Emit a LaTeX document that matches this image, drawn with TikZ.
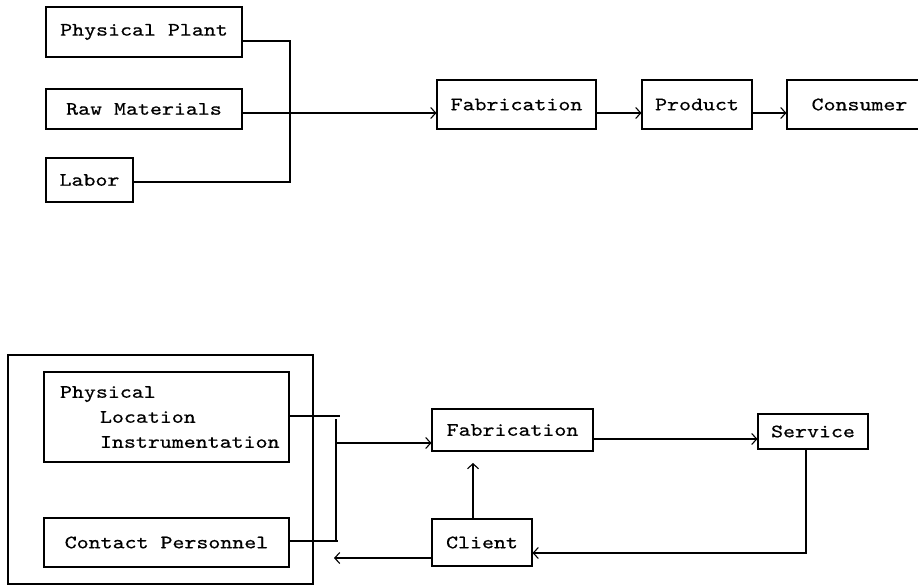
\documentclass[tikz,border=0pt]{standalone}
\usepackage{fontspec}
\newfontfamily\tw{lmmono10-regular.otf}[FakeStretch=1.2,FakeBold=0.6]
\usetikzlibrary{arrows.meta}
\begin{document}
\begin{tikzpicture}[x=1pt,y=-1pt,
  box/.style={draw, line width=1.1pt, inner sep=0pt, font=\tw\fontsize{19}{25}\selectfont},
  ln/.style={line width=1.1pt},
  arr/.style={line width=1.1pt, -{Straight Barb[length=5pt,width=11pt]}}]
\clip (0,0) rectangle (918,586);
% ---------- top ----------
\node[box, minimum width=196pt, minimum height=50pt] (pp) at (144,32) {Physical Plant};
\node[box, minimum width=196pt, minimum height=40pt] (rm) at (144,109) {Raw Materials};
\node[box, minimum width=87pt, minimum height=44pt] (lab) at (89.5,180) {Labor};
\node[box, minimum width=159pt, minimum height=49pt] (fabA) at (516.5,104.5) {Fabrication};
\node[box, minimum width=110pt, minimum height=49pt] (prod) at (697,104.5) {Product};
\node[box, minimum width=145pt, minimum height=49pt] (cons) at (859.5,104.5) {Consumer};
\coordinate (j1) at (290,41);
\coordinate (j2) at (290,182);
\draw[ln] (pp.east |- j1) -- (j1) -- (j2) -- (lab.east |- j2);
\draw[arr] ([yshift=-4pt]rm.east) -- ([yshift=-4pt]rm.east -| fabA.west);
\draw[arr] ([yshift=-8.5pt]fabA.east) -- ([yshift=-8.5pt]fabA.east -| prod.west);
\draw[arr] ([yshift=-8.5pt]prod.east) -- ([yshift=-8.5pt]prod.east -| cons.west);
% ---------- bottom ----------
\node[box, minimum width=305pt, minimum height=229pt] (grp) at (160.5,469.5) {};
\node[box, minimum width=245pt, minimum height=90pt, text width=245pt, align=left] (plc) at (166.5,417)
  {\hspace*{16pt}Physical\\\hspace*{56pt}Location\\\hspace*{56pt}Instrumentation};
\node[box, minimum width=245pt, minimum height=49pt] (cp) at (166.5,542.5) {Contact Personnel};
\node[box, minimum width=161pt, minimum height=42pt] (fabB) at (512.5,430) {Fabrication};
\node[box, minimum width=110pt, minimum height=35pt] (svc) at (813,431.5) {Service};
\node[box, minimum width=100pt, minimum height=47pt] (cli) at (482,542.5) {Client};
\coordinate (b1) at (340,416);
\coordinate (v1) at (336,419);
\coordinate (v2) at (336,542);
\coordinate (b2) at (338,541);
\coordinate (vo) at (336,443);
\draw[ln] (plc.east |- b1) -- (b1);
\draw[ln] (v1) -- (v2);
\draw[ln] (cp.east |- b2) -- (b2);
\draw[arr] (vo) -- (vo -| fabB.west);
\draw[arr] ([yshift=-9pt]fabB.east) -- ([yshift=-9pt]fabB.east -| svc.west);
\coordinate (ct) at (473,463);
\draw[arr] (cli.north -| ct) -- (ct);
\coordinate (s1) at (806,553);
\draw[arr] (svc.south -| s1) -- (s1) -- (s1 -| cli.east);
\coordinate (ce) at (334,558);
\draw[arr] (cli.west |- ce) -- (ce);
\end{tikzpicture}
\end{document}
